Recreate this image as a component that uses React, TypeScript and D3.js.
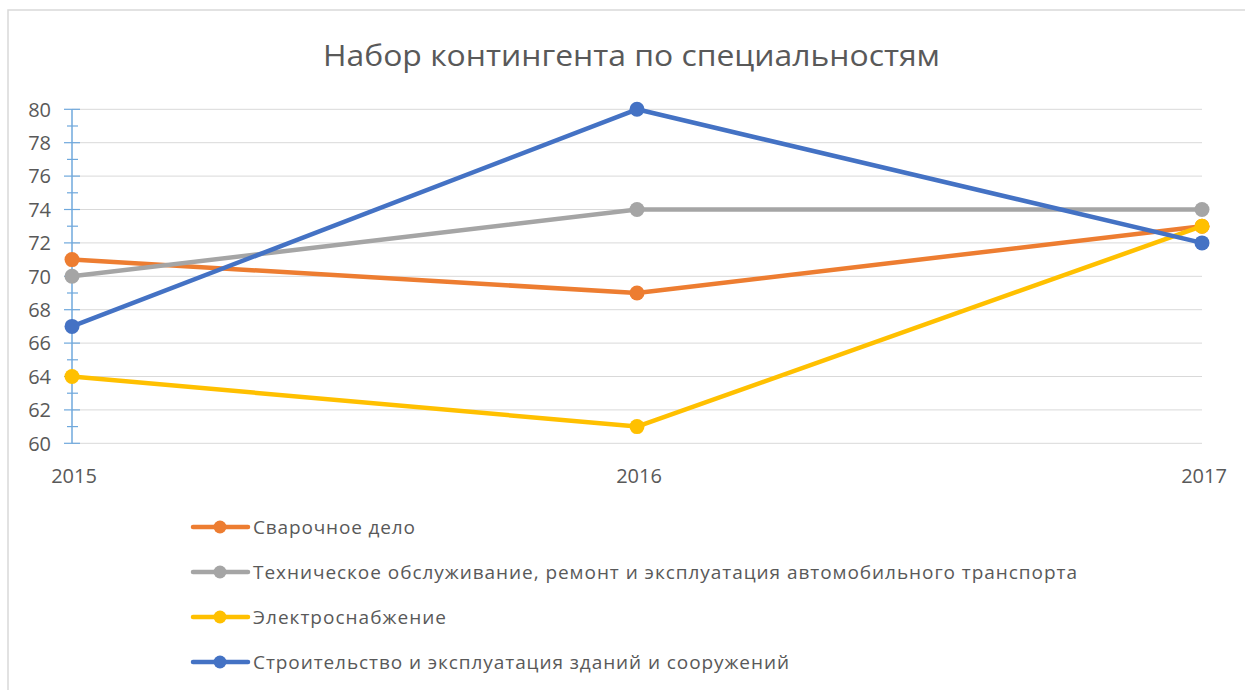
import React from "react";
import * as d3 from "d3";

const years = ["2015", "2016", "2017"];
const seriesNames = [
  "Сварочное дело",
  "Техническое обслуживание, ремонт и эксплуатация автомобильного транспорта",
  "Электроснабжение",
  "Строительство и эксплуатация зданий и сооружений",
];
const welding = [71, 69, 73];
const maintenance = [70, 74, 74];
const power = [64, 61, 73];
const construction = [67, 80, 72];
const yTicks = [60, 62, 64, 66, 68, 70, 72, 74, 76, 78, 80];
const colors = ["#ED7D31", "#A5A5A5", "#FFC000", "#4472C4"];
const title = "Набор контингента по специальностям";
const legendWidths = [162, 824, 193, 536];

export default function App() {
  const W = 1245, H = 690;
  const x = d3.scalePoint<string>().domain(years).range([72, 1202]);
  const y = d3.scaleLinear().domain([60, 80]).range([443.3, 109.3]);
  const data = [welding, maintenance, power, construction];
  const line = d3.line<number>().x((_, i) => x(years[i])!).y((v) => y(v));
  const minor = d3.range(61, 80, 2);
  const font = "'Open Sans', sans-serif";
  const textColor = "#595959";
  const legendY = [527, 572, 617, 662];
  return (
    <svg width={W} height={H} style={{ position: "absolute", left: 0, top: 0 }} fontFamily={font}>
      <rect x={0} y={0} width={W} height={H} fill="#fff" />
      <rect x={8} y={10} width={W + 10} height={H + 10} fill="#fff" stroke="#d9d9d9" strokeWidth={1.5} />
      <text x={323} y={66} textLength={617} lengthAdjust="spacingAndGlyphs" fontSize={29} fill={textColor}>{title}</text>
      {yTicks.map((t) => (
        <g key={t}>
          <line x1={72} x2={1202} y1={y(t)} y2={y(t)} stroke="#d9d9d9" strokeWidth={1} />
          <line x1={64} x2={80} y1={y(t)} y2={y(t)} stroke="#6FA8DC" strokeWidth={1.2} />
          <text x={51} y={y(t)} dy="0.36em" textAnchor="end" fontSize={20} fill={textColor}>{t}</text>
        </g>
      ))}
      {minor.map((t) => (
        <line key={t} x1={67} x2={78} y1={y(t)} y2={y(t)} stroke="#6FA8DC" strokeWidth={1.2} />
      ))}
      <line x1={72} x2={72} y1={y(80)} y2={y(60)} stroke="#6FA8DC" strokeWidth={1.5} />
      {years.map((yr) => (
        <text key={yr} x={x(yr)! + 2} y={483} textAnchor="middle" fontSize={20} fill={textColor}>{yr}</text>
      ))}
      {data.map((s, k) => (
        <g key={k}>
          <path d={line(s)!} fill="none" stroke={colors[k]} strokeWidth={4.5} strokeLinejoin="round" strokeLinecap="round" />
          {s.map((v, i) => (
            <circle key={i} cx={x(years[i])!} cy={y(v)} r={7.5} fill={colors[k]} />
          ))}
        </g>
      ))}
      {seriesNames.map((name, k) => (
        <g key={name}>
          <line x1={193} x2={248} y1={legendY[k]} y2={legendY[k]} stroke={colors[k]} strokeWidth={4.5} strokeLinecap="round" />
          <circle cx={220} cy={legendY[k]} r={6.5} fill={colors[k]} />
          <text x={253} y={legendY[k]} dy="0.36em" textLength={legendWidths[k]} lengthAdjust="spacing" fontSize={19} fill={textColor}>{name}</text>
        </g>
      ))}
    </svg>
  );
}
